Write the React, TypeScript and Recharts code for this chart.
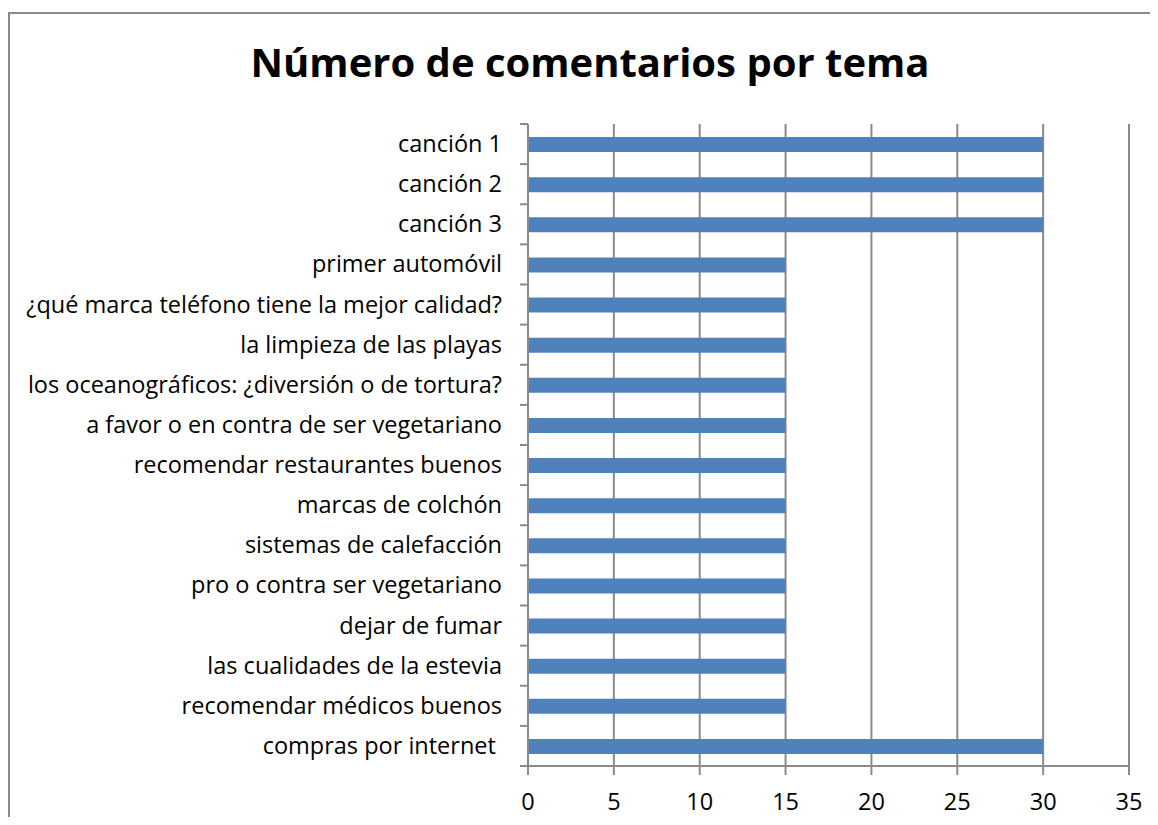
import React from 'react';
import { BarChart, Bar, XAxis, YAxis, CartesianGrid } from 'recharts';

const topics = [
  'canción 1',
  'canción 2',
  'canción 3',
  'primer automóvil',
  '¿qué marca teléfono tiene la mejor calidad?',
  'la limpieza de las playas',
  'los oceanográficos: ¿diversión o de tortura?',
  'a favor o en contra de ser vegetariano',
  'recomendar restaurantes buenos',
  'marcas de colchón',
  'sistemas de calefacción',
  'pro o contra ser vegetariano',
  'dejar de fumar',
  'las cualidades de la estevia',
  'recomendar médicos buenos',
  'compras por internet ',
];

const comments = [30, 30, 30, 15, 15, 15, 15, 15, 15, 15, 15, 15, 15, 15, 15, 30];

const xTicks = [0, 5, 10, 15, 20, 25, 30, 35];

const data = topics.map((name, i) => ({ name, value: comments[i] }));

const GRID = '#8a8a8a';
const FONT = '"Open Sans", sans-serif';
const LABEL_SIZE = 23.5;
const TICK_LEN = 8;
const LABEL_GAP = 18;

// Excel puts the category tick marks between bands, not at their centres
const TopicTick = (props: any) => {
  const { x, y, payload, index } = props;
  const half = payload?.offset ?? 20;
  const axisX = x + TICK_LEN + LABEL_GAP;
  return (
    <g>
      <line x1={axisX - TICK_LEN} x2={axisX} y1={y - half} y2={y - half} stroke={GRID} strokeWidth={2} />
      {index === topics.length - 1 && (
        <line x1={axisX - TICK_LEN} x2={axisX} y1={y + half} y2={y + half} stroke={GRID} strokeWidth={2} />
      )}
      <text
        x={x}
        y={y + 8}
        textAnchor="end"
        fontFamily={FONT}
        fontSize={LABEL_SIZE}
        fill="#000"
        style={{ whiteSpace: 'pre' }}
      >
        {payload.value}
      </text>
    </g>
  );
};

const App: React.FC = () => {
  return (
    <div style={{ position: 'relative', width: 1148, height: 809, overflow: 'hidden' }}>
      <div
        style={{
          position: 'absolute',
          left: 0,
          top: 4,
          width: 1148,
          height: 900,
          border: '2px solid #8a8a8a',
          boxSizing: 'border-box',
        }}
      />
      <div
        style={{
          position: 'absolute',
          left: 8,
          top: 34,
          width: 1148,
          textAlign: 'center',
          fontFamily: FONT,
          fontWeight: 700,
          fontSize: 40,
          lineHeight: 1,
          color: '#000',
        }}
      >
        Número de comentarios por tema
      </div>
      <BarChart
        width={1148}
        height={809}
        data={data}
        layout="vertical"
        margin={{ top: 116, right: 27, bottom: 21, left: 0 }}
      >
        <CartesianGrid horizontal={false} stroke={GRID} strokeWidth={2} />
        <XAxis
          type="number"
          domain={[0, 35]}
          ticks={xTicks}
          interval={0}
          height={30}
          tickSize={9}
          tickMargin={18}
          axisLine={{ stroke: GRID, strokeWidth: 2 }}
          tickLine={{ stroke: GRID, strokeWidth: 2 }}
          tick={{ fontFamily: FONT, fontSize: LABEL_SIZE, fill: '#000' }}
        />
        <YAxis
          type="category"
          dataKey="name"
          width={520}
          interval={0}
          tickSize={TICK_LEN}
          tickMargin={LABEL_GAP}
          tickLine={false}
          axisLine={{ stroke: GRID, strokeWidth: 2 }}
          tick={<TopicTick />}
        />
        <Bar dataKey="value" fill="#4F81BD" barSize={15} isAnimationActive={false} />
      </BarChart>
    </div>
  );
};

export default App;
